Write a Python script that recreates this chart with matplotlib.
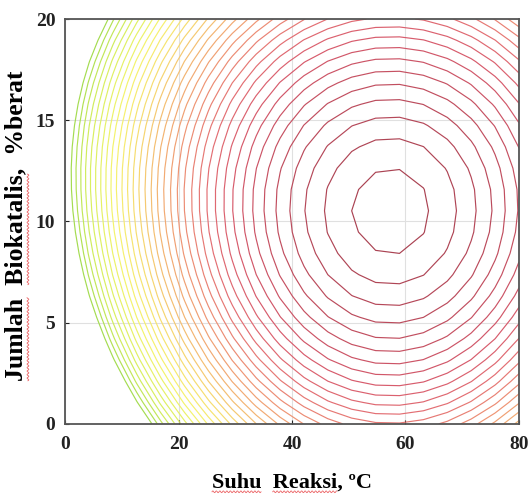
import numpy as np
import matplotlib.pyplot as plt
from matplotlib.colors import LinearSegmentedColormap
from matplotlib.lines import Line2D
from matplotlib.transforms import IdentityTransform

plt.rcParams['font.family'] = ['Liberation Serif', 'DejaVu Serif']
plt.rcParams['font.weight'] = 'bold'

# Model permukaan respon
suhu_opt = 57.4          # pusat kontur, ºC
katalis_opt = 10.5       # pusat kontur, %berat
respon_maks = 100.0
skala_suhu = 9.54        # lebar lengkung arah suhu
skala_katalis = 2.96     # lebar lengkung arah katalis
koef_kubik = 1.3e-4      # koreksi asimetri kiri atas

# Level kontur
level_atas = 99.48
jarak_level = 1.0
jumlah_level = 35

# Rentang sumbu dan label tick
rentang_suhu = (0, 80)
rentang_katalis = (0, 20)
tick_suhu = [0, 20, 40, 60, 80]
tick_katalis = [0, 5, 10, 15, 20]

warna_kontur = ['#a4dc50', '#d4ee5e', '#f6f36e', '#f6dc70', '#f4b872',
                '#ee9274', '#e47074', '#d65a6c', '#aa4252']
posisi_warna = [0.0, 0.095, 0.25, 0.36, 0.46, 0.57, 0.67, 0.77, 1.0]

# grid kasar, seperti hasil perangkat lunak statistik
n_grid = 20
suhu = np.linspace(rentang_suhu[0], rentang_suhu[1], n_grid)
katalis = np.linspace(rentang_katalis[0], rentang_katalis[1], n_grid)
X, Y = np.meshgrid(suhu, katalis)
dx = X - suhu_opt
dy = Y - katalis_opt
Z = respon_maks - (dx / skala_suhu) ** 2 - (dy / skala_katalis) ** 2 + koef_kubik * dx ** 2 * dy

levels = np.sort(level_atas - jarak_level * np.arange(jumlah_level))

cmap = LinearSegmentedColormap.from_list('hijau_merah', list(zip(posisi_warna, warna_kontur)))

fig = plt.figure(figsize=(5.29, 5.01), dpi=100)
ax = fig.add_axes([0.123, 0.154, 0.858, 0.808])

ax.grid(True, color='#e0e0e0', linewidth=0.8, zorder=0)
ax.contour(X, Y, Z, levels=levels, cmap=cmap, linewidths=0.85, zorder=2)

ax.set_xlim(*rentang_suhu)
ax.set_ylim(*rentang_katalis)
ax.set_xticks(tick_suhu)
ax.set_yticks(tick_katalis)
ax.tick_params(direction='in', length=3, width=0.8, labelsize=14, colors='#222222')
ax.tick_params(axis='x', pad=9)
ax.tick_params(axis='y', pad=7)
for s in ax.spines.values():
    s.set_color('#555555')
    s.set_linewidth(1.3)

judul_x = 'Suhu  Reaksi, \u00baC'
judul_y = 'Jumlah  Biokatalis,  %berat'
ukuran_x = 16
ukuran_y = 18.5
lx = ax.set_xlabel(judul_x, fontsize=ukuran_x, fontweight='bold', labelpad=14)
ly = ax.set_ylabel(judul_y, fontsize=ukuran_y, fontweight='bold')
ax.yaxis.set_label_coords(-0.084, 0.49)

# garis bergelombang merah (tanda ejaan) di bawah kata
fig.canvas.draw()
renderer = fig.canvas.get_renderer()


def lebar(teks, ukuran):
    t = fig.text(0, 0, teks, fontsize=ukuran, fontweight='bold')
    w = t.get_window_extent(renderer).width
    t.remove()
    return w


def gelombang(a, b, tetap, horizontal=True):
    s = np.arange(a, b, 0.5)
    g = 0.9 * np.sin(2 * np.pi * (s - a) / 3.5)
    if horizontal:
        xs, ys = s, tetap + g
    else:
        xs, ys = tetap + g, s
    fig.add_artist(Line2D(xs, ys, transform=IdentityTransform(), color='#e8484a',
                          linewidth=0.6, alpha=0.85))


bx = lx.get_window_extent(renderer)
for awal, akhir in [('', 'Suhu'), ('Suhu  ', 'Suhu  Reaksi')]:
    a = bx.x0 + (lebar(awal, ukuran_x) if awal else 0)
    gelombang(a, bx.x0 + lebar(akhir, ukuran_x), bx.y0 + 1)

by = ly.get_window_extent(renderer)
for awal, akhir in [('', 'Jumlah'), ('Jumlah  ', 'Jumlah  Biokatalis')]:
    a = by.y0 + (lebar(awal, ukuran_y) if awal else 0)
    gelombang(a, by.y0 + lebar(akhir, ukuran_y), by.x1 + 1, horizontal=False)

fig.savefig('out.png', dpi=100)
